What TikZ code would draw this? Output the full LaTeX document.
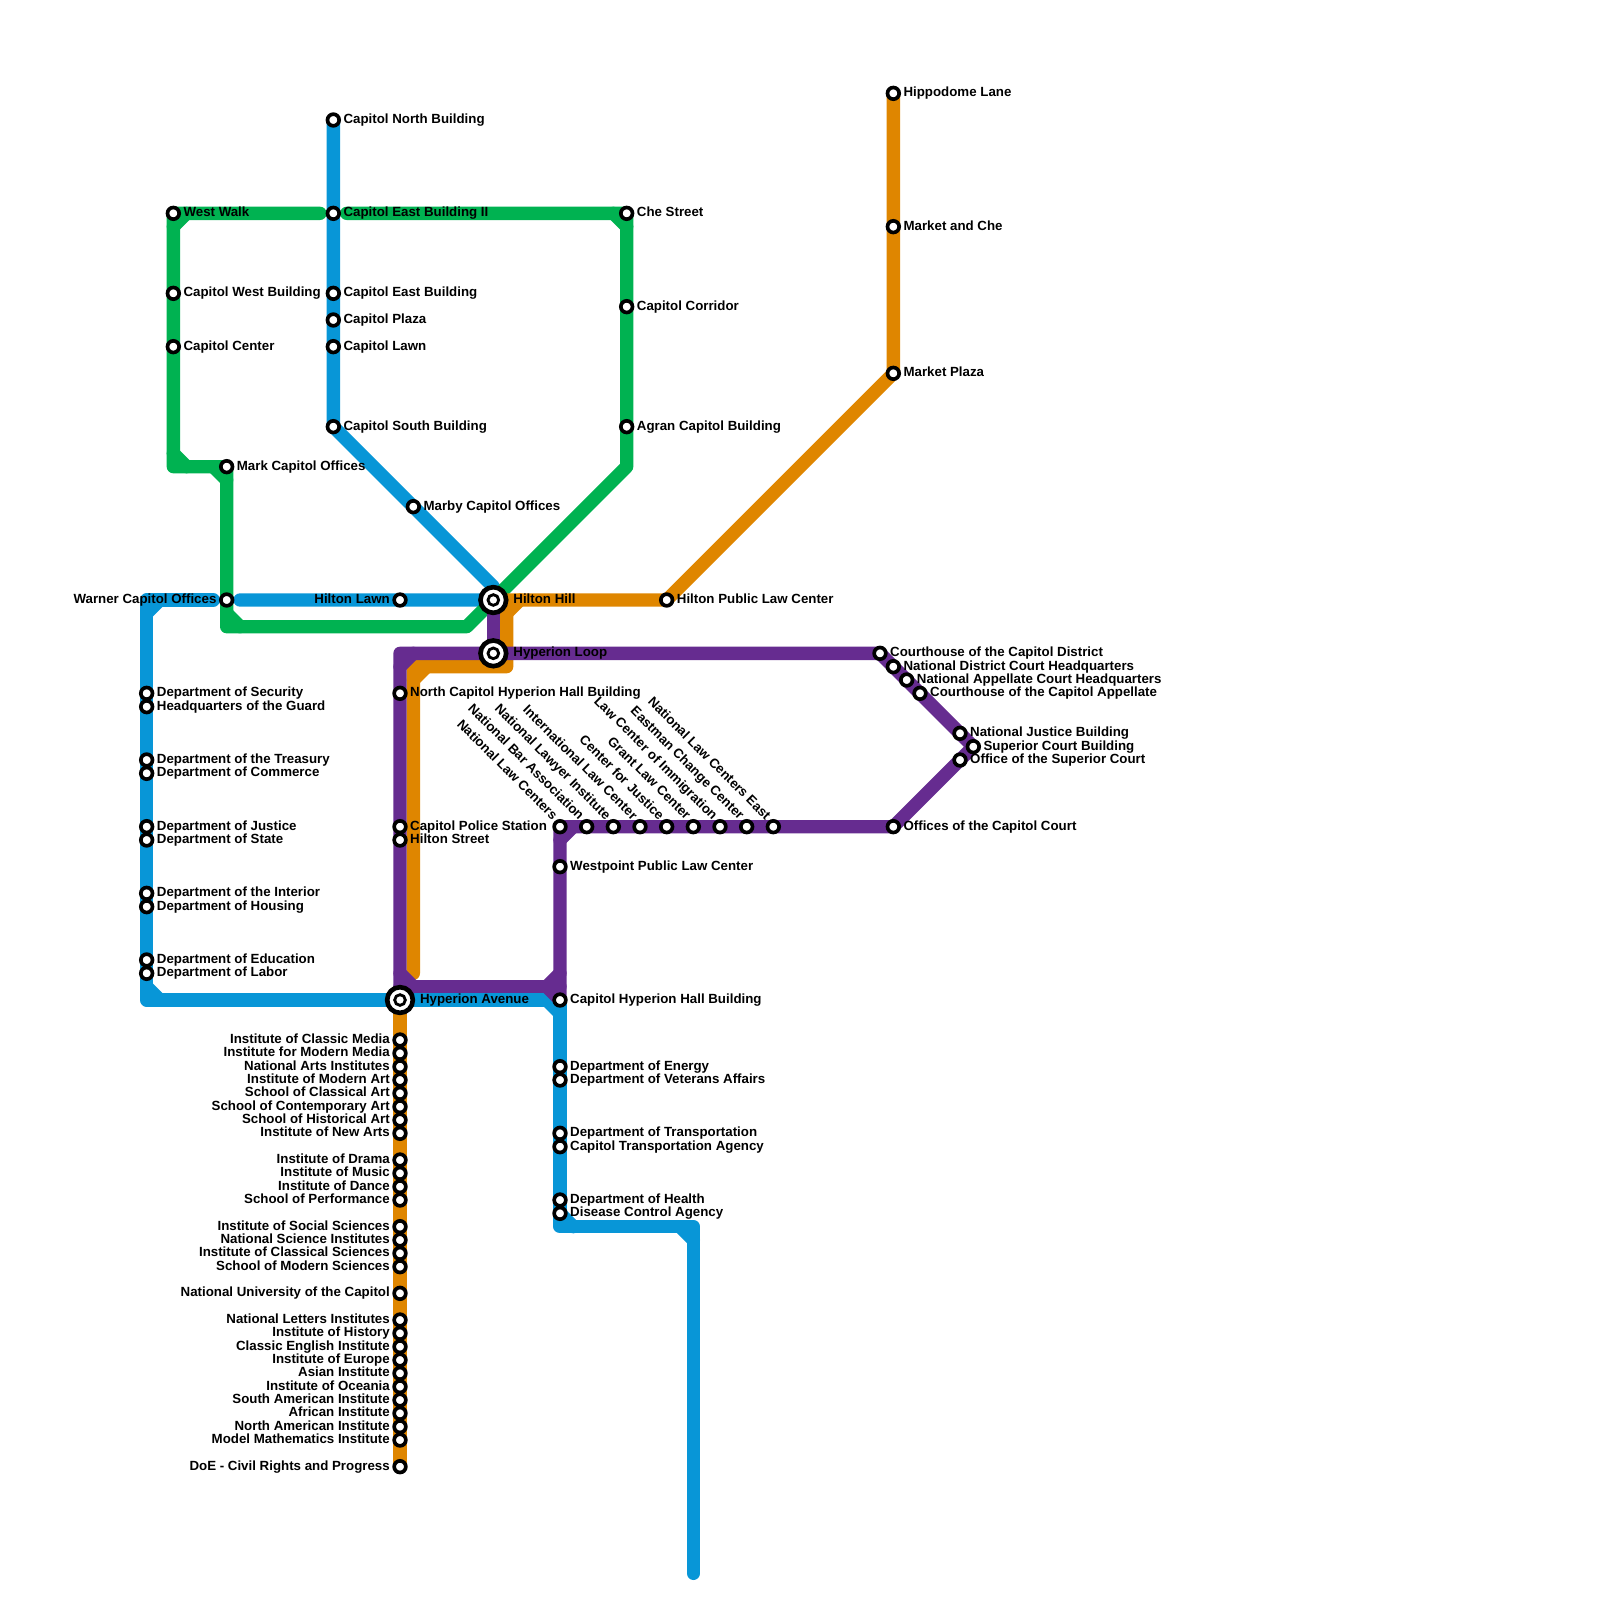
\documentclass[tikz,border=0pt]{standalone}
\usepackage{xcolor}
\usepackage{fontspec}
\setmainfont{Liberation Sans}
\usetikzlibrary{positioning}
\definecolor{metrogreen}{HTML}{00B251}
\definecolor{metroblue}{HTML}{0896D7}
\definecolor{metroorange}{HTML}{DF8600}
\definecolor{metropurple}{HTML}{662C90}
\pgfdeclarelayer{lines}
\pgfsetlayers{lines,main}
\tikzset{
    track/.style={line width=0.4cm,line cap=round,line join=round},
    lineblue/.style={track,metroblue},
    linegreen/.style={track,metrogreen},
    lineorange/.style={track,metroorange},
    linepurple/.style={track,metropurple},
    stop/.style={circle,draw=black,fill=white,line width=0.11cm,minimum size=0.35cm,inner sep=0pt},
    hub/.style={circle,draw=black,fill=white,line width=0.14cm,minimum size=0.77cm,inner sep=0pt},
    hubcore/.style={circle,draw=black,fill=white,line width=0.085cm,minimum size=0.32cm,inner sep=0pt},
    stoptext/.style={font=\fontsize{11.35pt}{11.35pt}\selectfont\bfseries,inner sep=0pt,text height=1.45ex,text depth=0.35ex},
    rl/.style={label={[stoptext,label distance=0.07cm]right:#1}},
    ll/.style={label={[stoptext,label distance=0.07cm]left:#1}},
    dl/.style={label={[stoptext,label distance=0.085cm,rotate=-45,anchor=east]135:#1}},
    hl/.style={label={[stoptext,label distance=0.14cm]right:#1}},
}

\begin{document}
\begin{tikzpicture}[x=0.4cm,y=-0.4cm]
    \useasboundingbox (0,0) rectangle (120,120);
    % Interchanges
    \node[hub,hl=Hilton Hill] (hillring) at (37,45) {};
    \node[hubcore] (hill) at (37,45) {};
    \node[hub,hl=Hyperion Loop] (loopring) at (37,49) {};
    \node[hubcore] (loop) at (37,49) {};
    \node[hub,hl=Hyperion Avenue] (avering) at (30,75) {};
    \node[hubcore] (ave) at (30,75) {};
    % Capitol stops
    \node[stop,rl=Capitol North Building] (capnorth) at (25,9) {};
    \node[stop,rl=Capitol East Building II] (capeasttwo) at (25,16) {};
    \node[stop,rl=Capitol East Building] (capeast) at (25,22) {};
    \node[stop,rl=Capitol Plaza] (capplaza) at (25,24) {};
    \node[stop,rl=Capitol Lawn] (caplawn) at (25,26) {};
    \node[stop,rl=Capitol South Building] (capsouth) at (25,32) {};
    \node[stop,rl=Marby Capitol Offices] (marby) at (31,38) {};
    \node[stop,ll=Hilton Lawn] (hiltonlawn) at (30,45) {};
    \node[stop,ll=Warner Capitol Offices] (warner) at (17,45) {};
    \node[stop,rl=West Walk] (westwalk) at (13,16) {};
    \node[stop,rl=Capitol West Building] (capwest) at (13,22) {};
    \node[stop,rl=Capitol Center] (capcenter) at (13,26) {};
    \node[stop,rl=Mark Capitol Offices] (mark) at (17,35) {};
    \node[stop,rl=Che Street] (che) at (47,16) {};
    \node[stop,rl=Capitol Corridor] (corridor) at (47,23) {};
    \node[stop,rl=Agran Capitol Building] (agran) at (47,32) {};
    % Market stops
    \node[stop,rl=Hippodome Lane] (hippodome) at (67,7) {};
    \node[stop,rl=Market and Che] (marketche) at (67,17) {};
    \node[stop,rl=Market Plaza] (marketplaza) at (67,28) {};
    \node[stop,rl=Hilton Public Law Center] (hiltonlaw) at (50,45) {};
    % Departments, west side
    \node[stop,rl=Department of Security] (security) at (11,52) {};
    \node[stop,rl=Headquarters of the Guard] (guard) at (11,53) {};
    \node[stop,rl=Department of the Treasury] (treasury) at (11,57) {};
    \node[stop,rl=Department of Commerce] (commerce) at (11,58) {};
    \node[stop,rl=Department of Justice] (justice) at (11,62) {};
    \node[stop,rl=Department of State] (state) at (11,63) {};
    \node[stop,rl=Department of the Interior] (interior) at (11,67) {};
    \node[stop,rl=Department of Housing] (housing) at (11,68) {};
    \node[stop,rl=Department of Education] (education) at (11,72) {};
    \node[stop,rl=Department of Labor] (labor) at (11,73) {};
    % Departments, south side
    \node[stop,rl=Capitol Hyperion Hall Building] (hallsouth) at (42,75) {};
    \node[stop,rl=Department of Energy] (energy) at (42,80) {};
    \node[stop,rl=Department of Veterans Affairs] (veterans) at (42,81) {};
    \node[stop,rl=Department of Transportation] (transport) at (42,85) {};
    \node[stop,rl=Capitol Transportation Agency] (agency) at (42,86) {};
    \node[stop,rl=Department of Health] (health) at (42,90) {};
    \node[stop,rl=Disease Control Agency] (disease) at (42,91) {};
    % Hyperion purple stops
    \node[stop,rl=North Capitol Hyperion Hall Building] (hallnorth) at (30,52) {};
    \node[stop,rl=Capitol Police Station] (police) at (30,62) {};
    \node[stop,rl=Hilton Street] (hiltonst) at (30,63) {};
    \node[stop,rl=Westpoint Public Law Center] (westpoint) at (42,65) {};
    \node[stop,dl=National Law Centers] (lawone) at (42,62) {};
    \node[stop,dl=National Bar Association] (lawtwo) at (44,62) {};
    \node[stop,dl=National Lawyer Institute] (lawthree) at (46,62) {};
    \node[stop,dl=International Law Center] (lawfour) at (48,62) {};
    \node[stop,dl=Center for Justice] (lawfive) at (50,62) {};
    \node[stop,dl=Grant Law Center] (lawsix) at (52,62) {};
    \node[stop,dl=Law Center of Immigration] (lawseven) at (54,62) {};
    \node[stop,dl=Eastman Change Center] (laweight) at (56,62) {};
    \node[stop,dl=National Law Centers East] (lawnine) at (58,62) {};
    % Courts
    \node[stop,rl=Courthouse of the Capitol District] (court) at (66,49) {};
    \node[stop,rl=National District Court Headquarters] (district) at (67,50) {};
    \node[stop,rl=National Appellate Court Headquarters] (appellate) at (68,51) {};
    \node[stop,rl=Courthouse of the Capitol Appellate] (courtapp) at (69,52) {};
    \node[stop,rl=National Justice Building] (natjustice) at (72,55) {};
    \node[stop,rl=Superior Court Building] (superior) at (73,56) {};
    \node[stop,rl=Office of the Superior Court] (supoffice) at (72,57) {};
    \node[stop,rl=Offices of the Capitol Court] (courtoffices) at (67,62) {};
    % Institutes
    \node[stop,ll=Institute of Classic Media] (ia) at (30,78) {};
    \node[stop,ll=Institute for Modern Media] (ib) at (30,79) {};
    \node[stop,ll=National Arts Institutes] (ic) at (30,80) {};
    \node[stop,ll=Institute of Modern Art] (id) at (30,81) {};
    \node[stop,ll=School of Classical Art] (ie) at (30,82) {};
    \node[stop,ll=School of Contemporary Art] (if) at (30,83) {};
    \node[stop,ll=School of Historical Art] (ig) at (30,84) {};
    \node[stop,ll=Institute of New Arts] (ih) at (30,85) {};
    \node[stop,ll=Institute of Drama] (ja) at (30,87) {};
    \node[stop,ll=Institute of Music] (jb) at (30,88) {};
    \node[stop,ll=Institute of Dance] (jc) at (30,89) {};
    \node[stop,ll=School of Performance] (jd) at (30,90) {};
    \node[stop,ll=Institute of Social Sciences] (ka) at (30,92) {};
    \node[stop,ll=National Science Institutes] (kb) at (30,93) {};
    \node[stop,ll=Institute of Classical Sciences] (kc) at (30,94) {};
    \node[stop,ll=School of Modern Sciences] (kd) at (30,95) {};
    \node[stop,ll=National University of the Capitol] (natuni) at (30,97) {};
    \node[stop,ll=National Letters Institutes] (ma) at (30,99) {};
    \node[stop,ll=Institute of History] (mb) at (30,100) {};
    \node[stop,ll=Classic English Institute] (mc) at (30,101) {};
    \node[stop,ll=Institute of Europe] (md) at (30,102) {};
    \node[stop,ll=Asian Institute] (me) at (30,103) {};
    \node[stop,ll=Institute of Oceania] (mf) at (30,104) {};
    \node[stop,ll=South American Institute] (mg) at (30,105) {};
    \node[stop,ll=African Institute] (mh) at (30,106) {};
    \node[stop,ll=North American Institute] (mi) at (30,107) {};
    \node[stop,ll=Model Mathematics Institute] (mj) at (30,108) {};
    \node[stop,ll=DoE - Civil Rights and Progress] (doe) at (30,110) {};
    % Corners and line ends
    \coordinate (bluenw) at (11,45);
    \coordinate (bluesw) at (11,75);
    \coordinate (bluebend) at (42,92);
    \coordinate (bluebendb) at (52,92);
    \coordinate (blueend) at (52,118);
    \coordinate (bluediag) at (37,44);
    \coordinate (warnerw) at (16,45);
    \coordinate (warnere) at (18,45);
    \coordinate (greenw) at (24,16);
    \coordinate (greene) at (26,16);
    \coordinate (greensw) at (13,35);
    \coordinate (greenlow) at (17,47);
    \coordinate (greenlowb) at (35,47);
    \coordinate (greense) at (47,35);
    \coordinate (orangetop) at (38,45);
    \coordinate (orangemid) at (38,50);
    \coordinate (orangewest) at (31,50);
    \coordinate (orangeend) at (31,73);
    \coordinate (purplenw) at (30,49);
    \coordinate (purplesw) at (30,74);
    \coordinate (purplese) at (42,74);
    \begin{pgfonlayer}{lines}
        % Blue
        \draw[lineblue] (capnorth.center) -- (capsouth.center) -- (bluediag) -- (hill.center) -- (warnere);
        \draw[lineblue] (warnerw) -- (bluenw) -- (bluesw) -- (hallsouth.center) -- (bluebend) -- (bluebendb) -- (blueend);
        \draw[lineblue] (bluenw) ++(0,1) -- ++(1,-1);
        \draw[lineblue] (bluesw) ++(0,-1) -- ++(1,1);
        \draw[lineblue] (hallsouth) ++(-1,0) -- ++(1,1);
        \draw[lineblue] (bluebend) ++(0,-1) -- ++(1,1);
        \draw[lineblue] (bluebendb) ++(-1,0) -- ++(1,1);
        % Green
        \draw[linegreen] (greenw) -- (westwalk.center) -- (greensw) -- (mark.center) -- (greenlow) -- (greenlowb) -- (hill.center) -- (greense) -- (che.center) -- (greene);
        \draw[linegreen] (westwalk) ++(0,1) -- ++(1,-1);
        \draw[linegreen] (greensw) ++(0,-1) -- ++(1,1);
        \draw[linegreen] (mark) ++(-1,0) -- ++(1,1);
        \draw[linegreen] (greenlow) ++(0,-1) -- ++(1,1);
        \draw[linegreen] (che) ++(-1,0) -- ++(1,1);
        % Orange
        \draw[lineorange] (hippodome.center) -- (marketplaza.center) -- (hiltonlaw.center) -- (orangetop) -- (orangemid) -- (orangewest) -- (orangeend);
        \draw[lineorange] (orangetop) ++(0,1) -- ++(1,-1);
        \draw[lineorange] (orangewest) ++(0,1) -- ++(1,-1);
        \draw[lineorange] (ave.center) -- (doe.center);
        % Purple
        \draw[linepurple] (hill.center) -- (loop.center);
        \draw[linepurple] (ave.center) -- (purplenw) -- (court.center) -- (superior.center) -- (courtoffices.center) -- (lawone.center) -- (hallsouth.center);
        \draw[linepurple] (purplesw) -- (purplese);
        \draw[linepurple] (purplenw) ++(0,1) -- ++(1,-1);
        \draw[linepurple] (purplesw) ++(0,-1) -- ++(1,1);
        \draw[linepurple] (lawone) ++(0,1) -- ++(1,-1);
        \draw[linepurple] (purplese) ++(-1,0) -- ++(1,-1);
        \draw[linepurple] (purplese) ++(-1,0) -- ++(1,1);
    \end{pgfonlayer}
\end{tikzpicture}
\end{document}
